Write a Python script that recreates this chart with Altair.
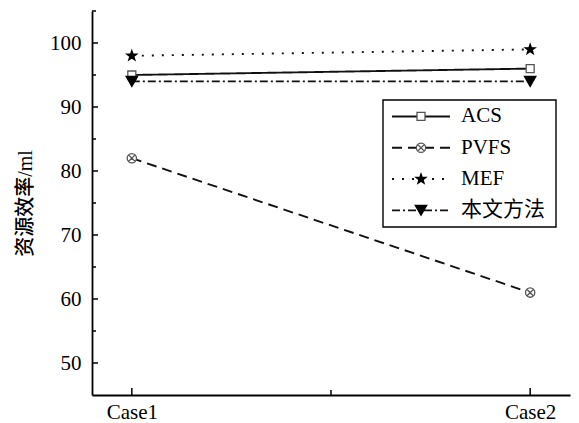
import math
import altair as alt
import pandas as pd

cases = ["Case1", "Case2"]
series = ["ACS", "PVFS", "MEF", "本文方法"]
acs = [95, 96]
pvfs = [82, 61]
mef = [98, 99]
ours = [94, 94]
y_major = [50, 60, 70, 80, 90, 100]
y_minor = [55, 65, 75, 85, 95, 105]
x_major = [1, 2]
x_minor = [1.5]

rows = []
for name, vals in zip(series, [acs, pvfs, mef, ours]):
    for i, v in enumerate(vals):
        rows.append({"series": name, "x": i + 1, "case": cases[i], "value": v})
df = pd.DataFrame(rows)
df_leg = pd.DataFrame({"series": series, "row": list(range(len(series)))})

# marker paths
pts = []
for k in range(10):
    ang = -math.pi / 2 + k * math.pi / 5
    r = 1.0 if k % 2 == 0 else 0.4
    pts.append(f"{r*math.cos(ang):.3f},{r*math.sin(ang):.3f}")
star = "M" + "L".join(pts) + "Z"
circx = ("M1,0A1,1 0 1,1 -1,0A1,1 0 1,1 1,0Z"
         "M-0.72,-0.72L0.72,0.72M-0.72,0.72L0.72,-0.72")

dash_scale = alt.Scale(domain=series, range=[[1, 0], [10, 6], [2, 8], [8, 3, 2, 3]])
shape_scale = alt.Scale(domain=series, range=["square", circx, star, "triangle-down"])
fill_scale = alt.Scale(domain=series, range=["white", "white", "black", "black"])
stroke_scale = alt.Scale(domain=series, range=["#555", "#555", "black", "black"])
size_scale = alt.Scale(domain=series, range=[64, 130, 210, 160])

serif = "Liberation Serif"
mixed = "'Liberation Serif', 'Noto Sans CJK SC'"
xscale = alt.Scale(domain=[0.9, 2.1], nice=False, zero=False)
yscale = alt.Scale(domain=[45, 105], nice=False, zero=False)

label_expr = f"datum.value == 1 ? '{cases[0]}' : (datum.value == 2 ? '{cases[1]}' : '')"

X = alt.X("x:Q", scale=xscale, axis=alt.Axis(
    values=x_major, labelExpr=label_expr, ticks=False, grid=False, title=None,
    domainColor="black", domainWidth=1.8, labelFont=serif, labelFontSize=21,
    labelColor="black", labelPadding=6))
Y = alt.Y("value:Q", scale=yscale, axis=alt.Axis(
    values=y_major, ticks=False, grid=False, title="资源效率/ml",
    domainColor="black", domainWidth=1.8, labelFont=serif, labelFontSize=21,
    labelColor="black", labelPadding=11, titleFont=mixed,
    titleFontSize=20, titleFontWeight=500, titleColor="black",
    titlePadding=14))
Xn = alt.X("x:Q", scale=xscale, axis=None)
Yn = alt.Y("value:Q", scale=yscale, axis=None)

dash_enc = alt.StrokeDash("series:N", scale=dash_scale, legend=None)
pt_enc = dict(
    shape=alt.Shape("series:N", scale=shape_scale, legend=None),
    fill=alt.Fill("series:N", scale=fill_scale, legend=None),
    stroke=alt.Stroke("series:N", scale=stroke_scale, legend=None),
    size=alt.Size("series:N", scale=size_scale, legend=None),
)

lines = alt.Chart(df).mark_line(color="#111", strokeWidth=1.9).encode(
    x=X, y=Y, detail="series:N", strokeDash=dash_enc)
points = alt.Chart(df).mark_point(filled=True, opacity=1, strokeWidth=1.3).encode(
    x=Xn, y=Yn, **pt_enc)

ymaj = alt.Chart(pd.DataFrame({"v": y_major})).mark_rule(color="black", strokeWidth=1.5).encode(
    y=alt.Y("v:Q", scale=yscale, axis=None), x=alt.value(0), x2=alt.value(6))
ymin = alt.Chart(pd.DataFrame({"v": y_minor})).mark_rule(color="black", strokeWidth=1.5).encode(
    y=alt.Y("v:Q", scale=yscale, axis=None), x=alt.value(0), x2=alt.value(4))
xmaj = alt.Chart(pd.DataFrame({"v": x_major})).mark_rule(color="black", strokeWidth=1.5).encode(
    x=alt.X("v:Q", scale=xscale, axis=None), y=alt.value(384), y2=alt.value(377))
xmin = alt.Chart(pd.DataFrame({"v": x_minor})).mark_rule(color="black", strokeWidth=1.5).encode(
    x=alt.X("v:Q", scale=xscale, axis=None), y=alt.value(384), y2=alt.value(379))

row_scale = alt.Scale(domain=[-3.37, 8.90], nice=False, zero=False, reverse=True)
RY = alt.Y("row:Q", scale=row_scale, axis=None)

box = alt.Chart(pd.DataFrame({"a": [0]})).mark_rect(fill="white", stroke="black", strokeWidth=1.4).encode(
    x=alt.value(291), x2=alt.value(464), y=alt.value(89), y2=alt.value(216))
leg_rules = alt.Chart(df_leg).mark_rule(color="#111", strokeWidth=1.9).encode(
    x=alt.value(300), x2=alt.value(358), y=RY, strokeDash=dash_enc)
leg_pts = alt.Chart(df_leg).mark_point(filled=True, opacity=1, strokeWidth=1.3).encode(
    x=alt.value(329), y=RY, **pt_enc)
leg_txt = alt.Chart(df_leg).mark_text(align="left", baseline="middle", font=mixed,
                                      fontSize=21, color="black").encode(
    x=alt.value(369), y=RY, text="series:N")

chart = alt.layer(
    lines, points, ymaj, ymin, xmaj, xmin, box, leg_rules, leg_pts, leg_txt
).resolve_scale(x="independent", y="independent").properties(
    width=478, height=384,
    padding={"left": 92, "top": 11, "right": 9, "bottom": 28},
    autosize=alt.AutoSizeParams(type="none"),
    background="white",
).configure_view(stroke=None)

chart.save("out.html", embed_options={"renderer": "svg", "actions": False})
